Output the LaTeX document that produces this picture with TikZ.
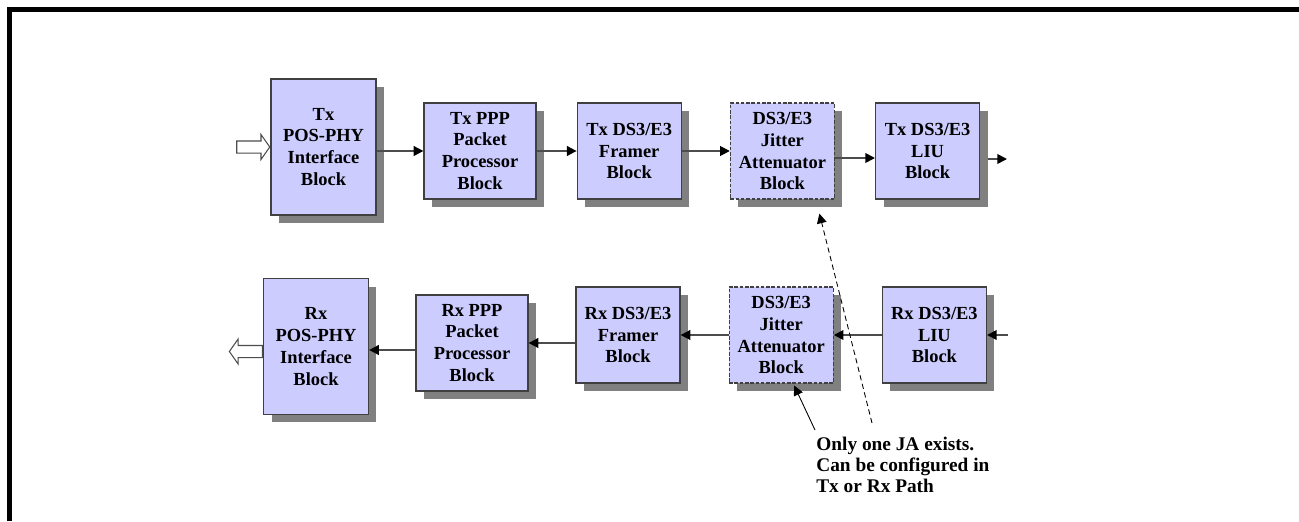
\documentclass[tikz,border=0pt]{standalone}
\usepackage{fontspec}
\setmainfont{Liberation Serif}
\usetikzlibrary{positioning,arrows.meta,shadows,shapes.arrows}
\definecolor{blockfill}{HTML}{CCCCFF}
\definecolor{shadowgray}{HTML}{808080}

\begin{document}
\begin{tikzpicture}[x = 0.02cm, y = 0.02cm]
		\tikzstyle{block} = [rectangle, draw = black!75, line width = 0.7pt, fill = blockfill, align = center, inner sep = 1pt, font = \bfseries\fontsize{10.5}{12.5}\selectfont, general shadow = {fill = shadowgray, shadow xshift = 0.16cm, shadow yshift = -0.16cm}];
		\tikzstyle{tallblock} = [block, minimum width = 2.1cm, minimum height = 2.72cm];
		\tikzstyle{wideblock} = [block, minimum width = 2.24cm, minimum height = 1.92cm];
		\tikzstyle{smallblock} = [block, minimum width = 2.08cm, minimum height = 1.92cm];
		\tikzstyle{jitterblock} = [smallblock, dash pattern = on 2pt off 1pt];
		\tikzstyle{busarrow} = [single arrow, draw = black!70, line width = 0.6pt, fill = white, minimum height = 0.66cm, inner sep = 0.11cm, single arrow head extend = 0.13cm, single arrow tip angle = 110];
		\tikzstyle{flow} = [draw, black!70, line width = 1pt, -{Triangle[length = 5.5pt, width = 5.5pt, color = black]}];
		\tikzstyle{notepath} = [draw, black, line width = 0.5pt, -{Triangle[length = 5.5pt, width = 5.5pt]}];
		\useasboundingbox (0,0) rectangle (1299,-521);
		\draw [line width = 0.11cm] (9.5,-521) -- (9.5,-9.5) -- (1299,-9.5);
		% transmit path
		\node (txpos) at (323.5,-147) [tallblock] {Tx\\POS-PHY\\Interface\\Block};
		\node (txppp) at (480,-151) [wideblock] {Tx PPP\\Packet\\Processor\\Block};
		\node (txfrm) [smallblock, right = 0.8cm of txppp] {Tx DS3/E3\\Framer\\Block};
		\node (txja) [jitterblock, right = 0.96cm of txfrm] {DS3/E3\\Jitter\\Attenuator\\Block};
		\node (txliu) [smallblock, right = 0.8cm of txja] {Tx DS3/E3\\LIU\\Block};
		\node (txbus) [busarrow, anchor = tip] at (txpos.west) {};
		\coordinate (txout) at (1007,-159);
		\path [flow] (txpos.east |- txppp) -- (txppp.west);
		\path [flow] (txppp.east) -- (txfrm.west);
		\path [flow] (txfrm.east) -- (txja.west);
		\path [flow] ([yshift = -0.14cm]txja.east) -- ([yshift = -0.14cm]txliu.west);
		\path [flow] ([xshift = 0.16cm]txliu.east |- txout) -- (txout);
		% receive path
		\node (rxpos) at (316,-346.5) [tallblock] {Rx\\POS-PHY\\Interface\\Block};
		\node (rxppp) at (472,-343) [wideblock] {Rx PPP\\Packet\\Processor\\Block};
		\node (rxfrm) at (628,-335) [smallblock] {Rx DS3/E3\\Framer\\Block};
		\node (rxja) [jitterblock, right = 0.96cm of rxfrm] {DS3/E3\\Jitter\\Attenuator\\Block};
		\node (rxliu) [smallblock, right = 0.96cm of rxja] {Rx DS3/E3\\LIU\\Block};
		\node (rxbus) [busarrow, shape border rotate = 180, anchor = tail] at ([yshift = -0.1cm]rxpos.west) {};
		\coordinate (rxin) at (1008,-335);
		\path [flow] (rxin) -- (rxliu.east);
		\path [flow] (rxliu.west) -- (rxja.east);
		\path [flow] (rxja.west) -- (rxfrm.east);
		\path [flow] (rxfrm.west |- rxppp) -- (rxppp.east);
		\path [flow] ([yshift = -0.14cm]rxppp.west) -- ([yshift = -0.14cm]rxppp.west -| rxpos.east);
		% note
		\node (note) at (816,-437) [anchor = north west, align = left, inner sep = 0pt, font = \bfseries\fontsize{11}{12}\selectfont] {Only one JA exists.\\Can be configured in\\Tx or Rx Path};
		\path [notepath] ([shift = {(-1,7)}]note.north west) -- ([shift = {(13,-2)}]rxja.south);
		\path [notepath, dash pattern = on 3pt off 2pt] ([shift = {(56,14)}]note.north west) -- ([shift = {(37,-14)}]txja.south);
	\end{tikzpicture}
\end{document}
